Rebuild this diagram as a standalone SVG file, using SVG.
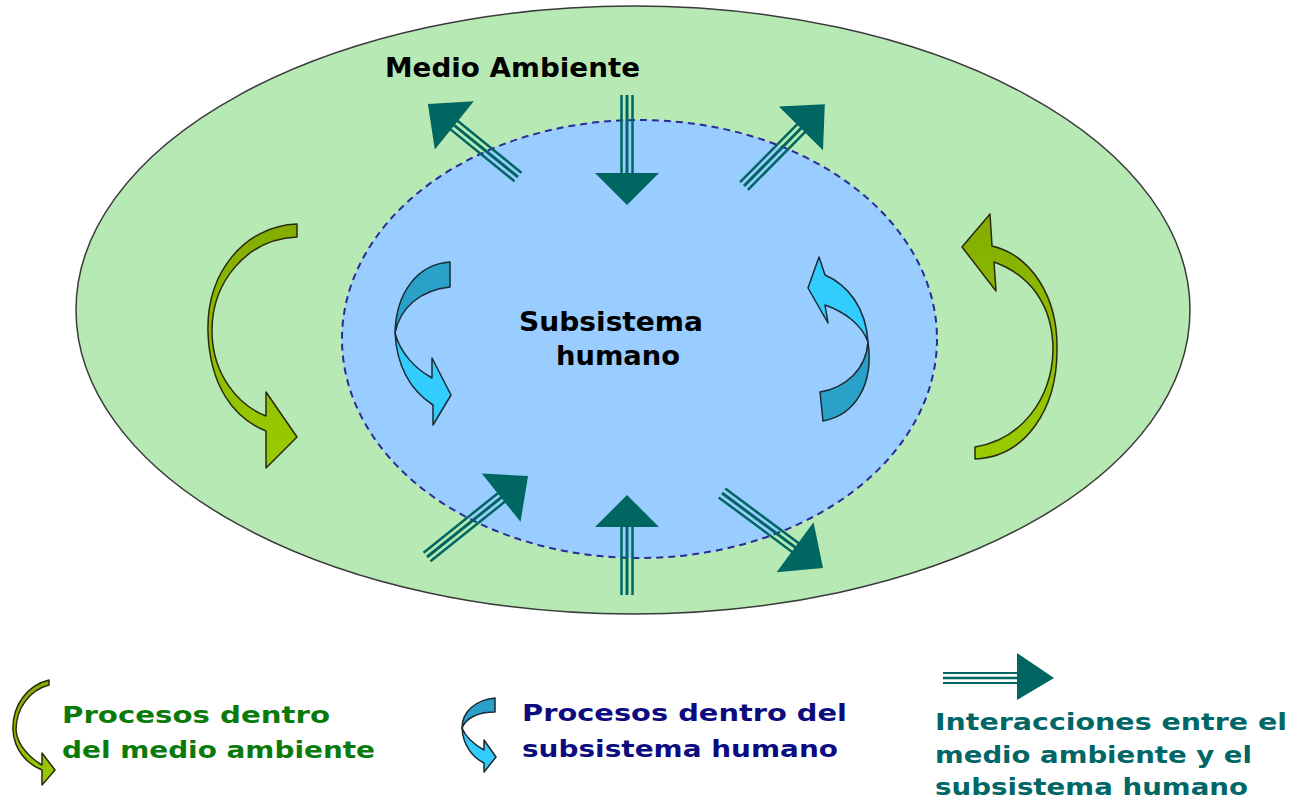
<svg xmlns="http://www.w3.org/2000/svg" width="1293" height="800" viewBox="0 0 1293 800">
<style>
text{font-family:"DejaVu Sans","Liberation Sans",sans-serif;font-weight:bold}
.shaft{stroke:#006661;fill:none}
.head{fill:#006661}
.green{stroke:#2a2a10;stroke-width:1.5;stroke-linejoin:round}
.blue{stroke:#1a2a33;stroke-width:1.5;stroke-linejoin:round}
.bdark{fill:#2aa1c8}
.blight{fill:#33ccff}
</style>
<defs>
<linearGradient id="gg" x1="0" y1="0" x2="0" y2="1">
<stop offset="0" stop-color="#84ad00"/>
<stop offset="1" stop-color="#99cc00"/>
</linearGradient>
</defs>
<rect width="1293" height="800" fill="#ffffff"/>

<g id="medio-ambiente">
<ellipse cx="633" cy="310" rx="557" ry="304" fill="#b7e9b4" stroke="#3a3a3a" stroke-width="1.5"/>
<text x="385" y="77" font-size="26" textLength="255" lengthAdjust="spacingAndGlyphs" fill="#000">Medio Ambiente</text>
</g>

<g id="subsistema-humano">
<ellipse cx="639.5" cy="339" rx="297.5" ry="219" fill="#99ccff" stroke="#2a2a99" stroke-width="2" stroke-dasharray="7,5"/>
<text x="611" y="331" font-size="26" text-anchor="middle" textLength="184" lengthAdjust="spacingAndGlyphs" fill="#000">Subsistema</text>
<text x="618" y="365" font-size="26" text-anchor="middle" textLength="124" lengthAdjust="spacingAndGlyphs" fill="#000">humano</text>
</g>

<g id="procesos-medio-izq">
<path class="green" fill="url(#gg)" d="M297,224 C245,226 206,272 208,333 C210,385 233,418 266,431 L266,468 L297,437 L266,392 L266,416 C238,405 213,375 212,333 C211,282 247,239 297,237 Z"/>
</g>
<g id="procesos-medio-der">
<path class="green" fill="url(#gg)" d="M975,447 C1020,440 1052,400 1053,350 C1053,305 1030,275 994,262 L996,291 L962,247 L990,214 L992,246 C1030,255 1058,295 1057,350 C1057,410 1025,457 975,459 Z"/>
</g>

<g id="procesos-humano-izq">
<path class="blue bdark" d="M450,262 C418,264 396,292 395,333 C400,308 420,290 450,287 Z"/>
<path class="blue blight" d="M395,333 C397,367 410,390 433,405 L433,425 L451,395 L432,358 L432,378 C414,368 400,352 395,333 Z"/>
</g>
<g id="procesos-humano-der">
<path class="blue blight" d="M868,342 C866,308 848,285 825,275 L819,257 L808,288 L828,323 L825,305 C845,312 862,325 868,342 Z"/>
<path class="blue bdark" d="M868,342 C874,385 855,415 823,421 L820,392 C845,388 866,370 868,342 Z"/>
</g>

<g id="interacciones">
<g transform="translate(518,177) rotate(-140.95)">
<path class="shaft" d="M0,-5.5 H84 M0,5.5 H84" stroke-width="2.5"/><path class="shaft" d="M0,0 H84" stroke-width="3"/>
<polygon class="head" points="116,0 82,-31 82,31"/>
</g>
<g transform="translate(627,95) rotate(90)">
<path class="shaft" d="M0,-5.5 H80 M0,5.5 H80" stroke-width="2.5"/><path class="shaft" d="M0,0 H80" stroke-width="3"/>
<polygon class="head" points="110,0 78,-32 78,32"/>
</g>
<g transform="translate(744,186) rotate(-45.35)">
<path class="shaft" d="M0,-5.5 H84 M0,5.5 H84" stroke-width="2.5"/><path class="shaft" d="M0,0 H84" stroke-width="3"/>
<polygon class="head" points="115,0 81,-31 81,31"/>
</g>
<g transform="translate(427,557) rotate(-38.7)">
<path class="shaft" d="M0,-5.5 H98 M0,5.5 H98" stroke-width="2.5"/><path class="shaft" d="M0,0 H98" stroke-width="3"/>
<polygon class="head" points="129.5,0 95,-31 95,31"/>
</g>
<g transform="translate(627,595) rotate(-90)">
<path class="shaft" d="M0,-5.5 H70 M0,5.5 H70" stroke-width="2.5"/><path class="shaft" d="M0,0 H70" stroke-width="3"/>
<polygon class="head" points="100,0 68,-32 68,32"/>
</g>
<g transform="translate(722,493) rotate(36.6)">
<path class="shaft" d="M0,-5.5 H94 M0,5.5 H94" stroke-width="2.5"/><path class="shaft" d="M0,0 H94" stroke-width="3"/>
<polygon class="head" points="125.8,0 91,-31 91,31"/>
</g>
</g>

<g id="leyenda-medio">
<path class="green" fill="url(#gg)" d="M49,680 C28,685 12,705 13,730 C14,750 27,764 42,770 L42,785 L55,770 L42,753 L42,765 C30,758 17,745 16,730 C16,708 30,690 49,685 Z"/>
<text x="62" y="723" font-size="23" textLength="268" lengthAdjust="spacingAndGlyphs" fill="#0a7a0a">Procesos dentro</text>
<text x="62" y="758" font-size="23" textLength="313" lengthAdjust="spacingAndGlyphs" fill="#0a7a0a">del medio ambiente</text>
</g>

<g id="leyenda-humano">
<path class="blue bdark" d="M495,698 C475,700 462,712 462,728 C466,718 478,712 495,712 Z"/>
<path class="blue blight" d="M462,728 C463,745 472,757 484,763 L484,772 L496,757 L484,740 L484,750 C475,745 466,738 462,728 Z"/>
<text x="522" y="721" font-size="23" textLength="325" lengthAdjust="spacingAndGlyphs" fill="#0c0c80">Procesos dentro del</text>
<text x="522" y="757" font-size="23" textLength="316" lengthAdjust="spacingAndGlyphs" fill="#0c0c80">subsistema humano</text>
</g>

<g id="leyenda-interacciones">
<g transform="translate(943,678)">
<path class="shaft" d="M0,-5 H77 M0,5 H77" stroke-width="2.2"/><path class="shaft" d="M0,0 H77" stroke-width="2.6"/>
<polygon class="head" points="111,0 74,-25 74,22"/>
</g>
<text x="935" y="730" font-size="23" textLength="352" lengthAdjust="spacingAndGlyphs" fill="#006666">Interacciones entre el</text>
<text x="935" y="763" font-size="23" textLength="317" lengthAdjust="spacingAndGlyphs" fill="#006666">medio ambiente y el</text>
<text x="935" y="795" font-size="23" textLength="313" lengthAdjust="spacingAndGlyphs" fill="#006666">subsistema humano</text>
</g>
</svg>
